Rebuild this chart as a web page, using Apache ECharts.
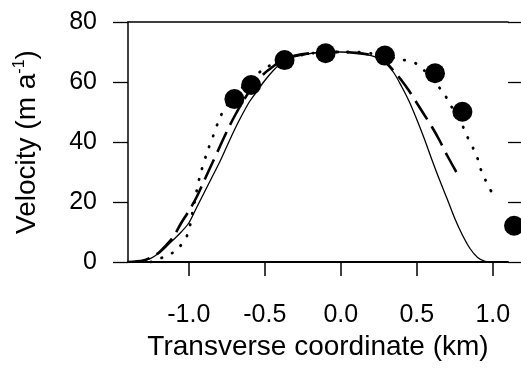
<!DOCTYPE html>
<html><head><meta charset="utf-8">
<script src="https://cdn.jsdelivr.net/npm/echarts@6/dist/echarts.min.js"></script>
<style>html,body{margin:0;padding:0;background:#fff}#c{width:521px;height:376px}</style>
</head><body><div id="c"></div>
<script>
// Observed velocities (dots)
const obsX = [-0.70, -0.59, -0.37, -0.10, 0.29, 0.62, 0.80, 1.14];
const obsY = [54.3, 59.0, 67.3, 69.6, 68.8, 62.9, 50.1, 12.1];

// Model curve 1 (thin solid)
const solidX = [-1.4,-1.35,-1.3,-1.25,-1.2,-1.15,-1.1,-1.05,-1.0,-0.95,-0.9,-0.85,-0.8,-0.75,-0.7,-0.65,-0.6,-0.55,-0.5,-0.45,-0.4,-0.35,-0.3,-0.2,-0.1,0.0,0.1,0.2,0.25,0.3,0.35,0.4,0.45,0.5,0.55,0.6,0.65,0.7,0.75,0.8,0.85,0.9,0.95,1.0];
const solidY = [0,0.1,0.5,1.2,2.8,5,7.5,10,13,18,23,28,33,38.5,44,49,53.5,57,60.5,63.5,66,67.5,68.5,69.5,70,70,69.7,68.8,67.8,66,63,58.5,53.5,47.5,41,34,27.3,21,14.5,9,4.5,1.5,0.2,0];

// Model curve 2 (long dashes)
const dashX = [-1.4,-1.3,-1.25,-1.2,-1.15,-1.1,-1.05,-1.0,-0.95,-0.9,-0.85,-0.8,-0.75,-0.7,-0.65,-0.6,-0.55,-0.5,-0.45,-0.4,-0.35,-0.3,-0.2,-0.1,0.0,0.1,0.2,0.25,0.3,0.35,0.4,0.45,0.5,0.55,0.6,0.65,0.7,0.76];
const dashY = [0,0.5,1.5,3,5.5,8.5,13,17,21.5,27,32.5,38,43.5,48.5,53,57,60.5,63,65,66.8,68,68.8,69.6,70,70,69.7,69,68.2,66.5,63.5,60.5,57,53,49,45,40.5,35.5,30];

// Model curve 3 (dotted)
const dotX = [-1.25,-1.15,-1.08,-1.01,-0.97,-0.93,-0.88,-0.84,-0.80,-0.76,-0.68,-0.6,-0.5,-0.4,-0.3,-0.2,-0.1,0.0,0.1,0.2,0.3,0.4,0.5,0.6,0.68,0.72,0.8,0.83,0.87,0.9,0.92,0.95,0.99];
const dotY = [0,2,4,9,18,28,36.5,42,47.5,51.5,56.5,60.5,64.5,67,68.5,69.5,70,70,70,69.5,68.5,67.5,66,61,56,52.5,45.5,42,38,34.5,31,27.5,23.5];

// Axis tick labels
const xTicks = [-1.0, -0.5, 0.0, 0.5, 1.0];
const yTicks = [0, 20, 40, 60, 80];

const zip = (a, b) => a.map((v, i) => [v, b[i]]);
const FONT = 'Liberation Sans, Arial, Helvetica, sans-serif';
const X_MIN = -1.4, X_MAX = 1.1;

const chart = echarts.init(document.getElementById('c'), null, {renderer: 'canvas'});
chart.setOption({
  animation: false,
  backgroundColor: '#fff',
  grid: {left: 128, right: 13, top: 22, bottom: 114, containLabel: false},
  xAxis: [{
    type: 'value', min: X_MIN, max: X_MAX, position: 'bottom',
    name: 'Transverse coordinate (km)', nameLocation: 'middle', nameGap: 70,
    nameTextStyle: {fontFamily: FONT, fontSize: 28, color: '#000'},
    axisLine: {show: true, onZero: false, lineStyle: {color: '#000', width: 2}},
    axisTick: {show: true, length: 14, lineStyle: {color: '#000', width: 1.5}, customValues: xTicks},
    axisLabel: {show: true, margin: 41, fontFamily: FONT, fontSize: 25, color: '#000',
      customValues: xTicks, formatter: v => v.toFixed(1)},
    splitLine: {show: false}
  }, {
    type: 'value', min: X_MIN, max: X_MAX, position: 'top',
    axisLine: {show: true, onZero: false, lineStyle: {color: '#000', width: 1.5}},
    axisTick: {show: false}, axisLabel: {show: false}, splitLine: {show: false}
  }],
  yAxis: [{
    type: 'value', min: yTicks[0], max: yTicks[yTicks.length - 1], interval: 20, position: 'left',
    name: 'Velocity (m a{sup|-1})', nameLocation: 'middle', nameGap: 86, nameRotate: 90,
    nameTextStyle: {fontFamily: FONT, fontSize: 28, color: '#000',
      rich: {sup: {fontFamily: FONT, fontSize: 16, color: '#000', padding: [0, 0, 14, 0]}}},
    axisLine: {show: true, onZero: false, lineStyle: {color: '#000', width: 1.5}},
    axisTick: {show: true, length: 15, lineStyle: {color: '#000', width: 1.3}},
    axisLabel: {show: true, margin: 31, fontFamily: FONT, fontSize: 25, color: '#000'},
    splitLine: {show: false}
  }, {
    type: 'value', min: yTicks[0], max: yTicks[yTicks.length - 1], interval: 20, position: 'right',
    axisLine: {show: false, onZero: false},
    axisTick: {show: true, length: 13, lineStyle: {color: '#000', width: 1.3}},
    axisLabel: {show: false}, splitLine: {show: false}
  }],
  series: [{
    type: 'line', data: zip(solidX, solidY), smooth: 0.3, symbol: 'none',
    lineStyle: {color: '#000', width: 1.3}, z: 3
  }, {
    type: 'line', data: zip(dashX, dashY), smooth: 0.3, symbol: 'none',
    lineStyle: {color: '#000', width: 2.6, type: [22, 8]}, z: 3
  }, {
    type: 'line', data: zip(dotX, dotY), smooth: 0.3, symbol: 'none',
    lineStyle: {color: '#000', width: 2.8, type: [0.5, 11], cap: 'round'}, z: 3
  }, {
    type: 'scatter', data: zip(obsX, obsY), symbol: 'circle', symbolSize: 20,
    itemStyle: {color: '#000', opacity: 1}, clip: false, z: 4
  }]
});
</script></body></html>
